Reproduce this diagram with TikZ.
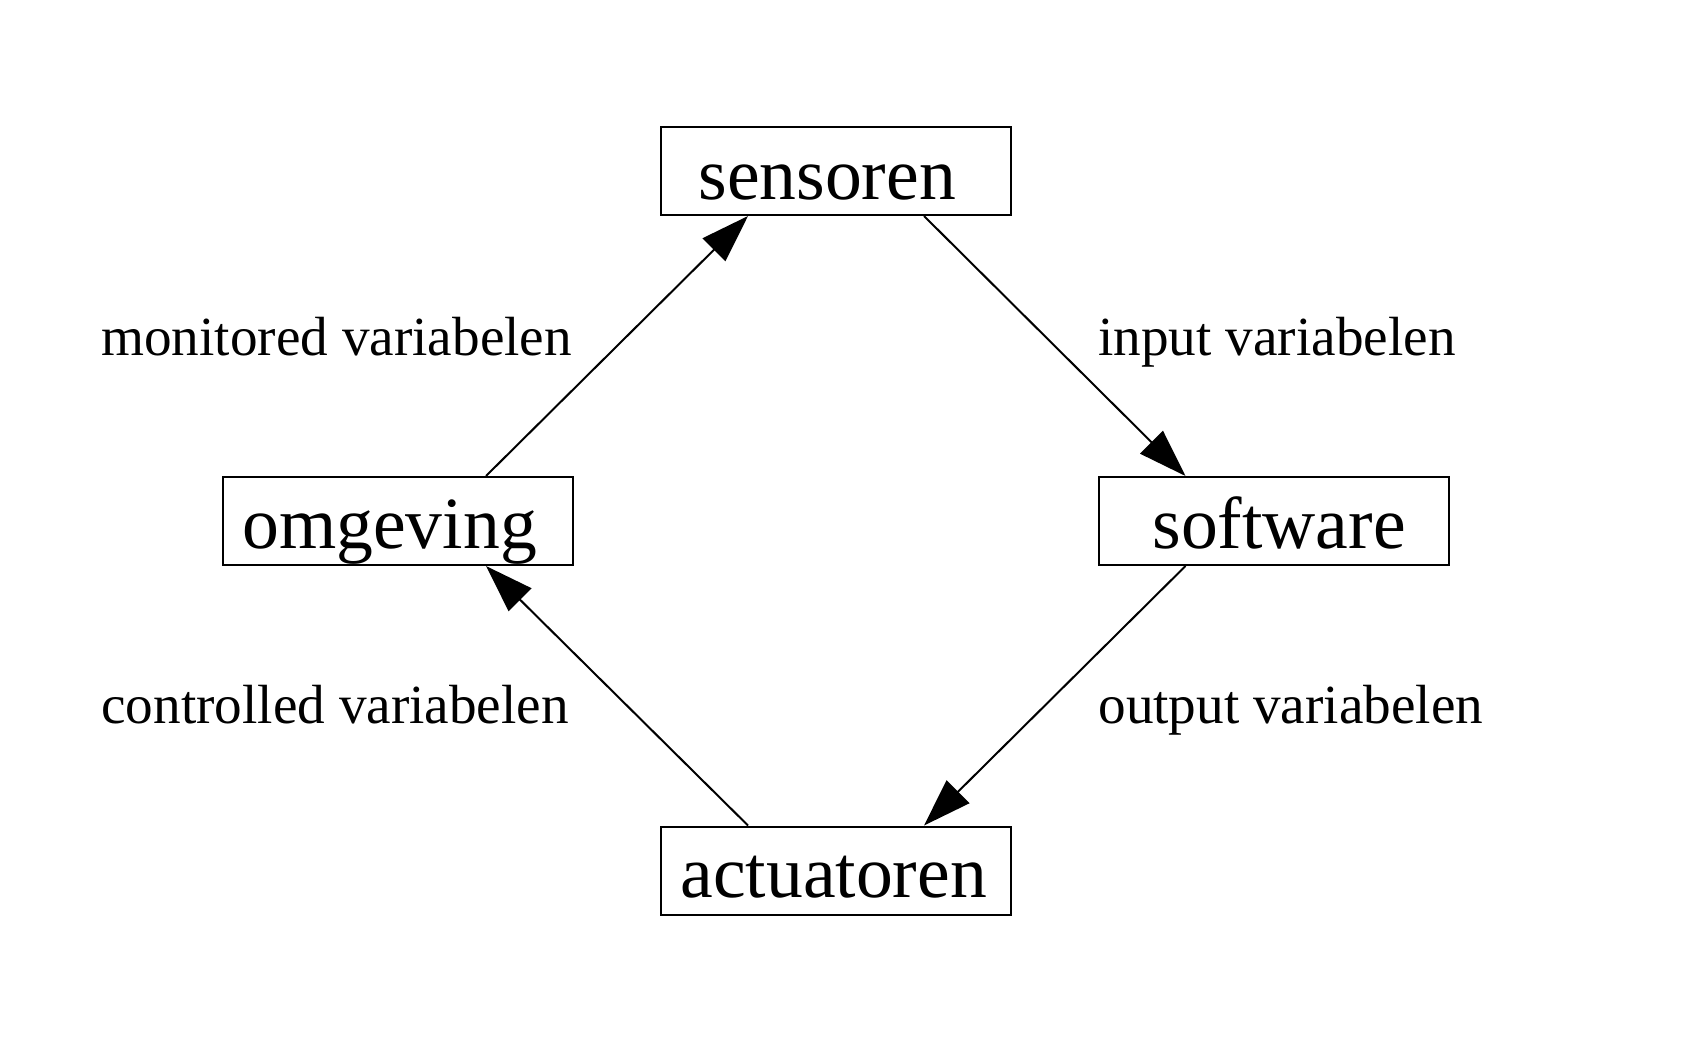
\documentclass[tikz,border=0pt]{standalone}
\usepackage{fontspec}
\setmainfont{Liberation Serif}
\usetikzlibrary{arrows.meta,calc}
\begin{document}
\begin{tikzpicture}[x=0.5pt,y=-0.5pt,
  box/.style={draw,line width=1pt,rectangle,minimum width=175pt,minimum height=44pt,inner sep=0pt},
  boxtext/.style={anchor=base west,inner sep=0pt,font=\fontsize{36.8pt}{40pt}\selectfont},
  lbl/.style={anchor=base west,inner sep=0pt,font=\fontsize{27.6pt}{30pt}\selectfont},
  arr/.style={line width=1pt,-{Triangle[length=24pt,width=16pt]}}]
\useasboundingbox (0,0) rectangle (1708,1038);
\node[box] (sens) at (836,171) {};
\node[box] (omg) at (398,521) {};
\node[box] (soft) at (1273.5,521) {};
\node[box] (act) at (836,870.5) {};
\node[boxtext] (senst) at (698,199) {sensoren};
\node[boxtext] (omgt) at (242,548) {omgeving};
\node[boxtext] (softt) at (1152,548) {software};
\node[boxtext] (actt) at (680,897) {actuatoren};
\node[lbl] (l1) at (101,355) {monitored variabelen};
\node[lbl] (l2) at (1098,355) {input variabelen};
\node[lbl] (l3) at (101,723) {controlled variabelen};
\node[lbl] (l4) at (1098,723) {output variabelen};
\draw[arr] ($(omg.north west)!0.75!(omg.north east)$) -- ($(sens.south west)!0.25!(sens.south east)$);
\draw[arr] ($(sens.south west)!0.75!(sens.south east)$) -- ($(soft.north west)!0.25!(soft.north east)$);
\draw[arr] ($(soft.south west)!0.25!(soft.south east)$) -- ($(act.north west)!0.75!(act.north east)$);
\draw[arr] ($(act.north west)!0.25!(act.north east)$) -- ($(omg.south west)!0.75!(omg.south east)$);
\end{tikzpicture}
\end{document}
